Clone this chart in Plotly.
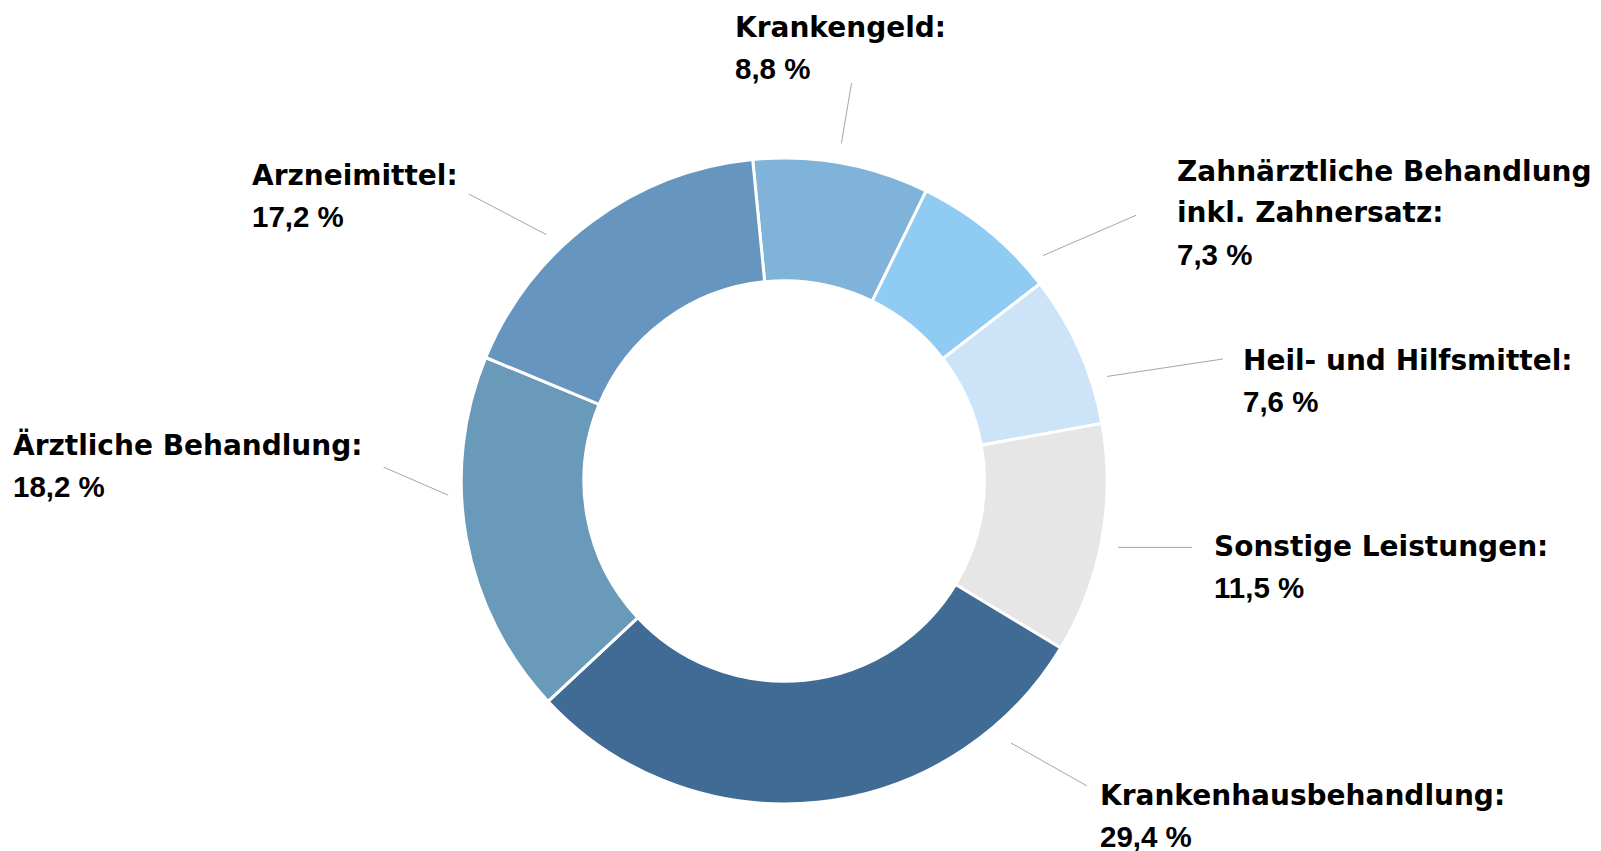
import math
import plotly.graph_objects as go

# ---- data ----
categories = [
    "Krankengeld",
    "Zahnärztliche Behandlung inkl. Zahnersatz",
    "Heil- und Hilfsmittel",
    "Sonstige Leistungen",
    "Krankenhausbehandlung",
    "Ärztliche Behandlung",
    "Arzneimittel",
]
label_lines = [
    ["Krankengeld:"],
    ["Zahnärztliche Behandlung", "inkl. Zahnersatz:"],
    ["Heil- und Hilfsmittel:"],
    ["Sonstige Leistungen:"],
    ["Krankenhausbehandlung:"],
    ["Ärztliche Behandlung:"],
    ["Arzneimittel:"],
]
shares = [8.8, 7.3, 7.6, 11.5, 29.4, 18.2, 17.2]

# ---- style ----
colors = ["#7fb3d9", "#8fcbf3", "#cde4f8", "#e6e6e6", "#3f6b95", "#6a9aba", "#6695c0"]
W, H = 1601, 851
CX, CY, R = 776.2, 473.0, 323.0   # pie centre / radius in px
HOLE = 0.62
ROTATION = -5.6
# label left x, centre of first line y (px)
label_pos = [
    (724.5, 19.4), (1166.5, 163.3), (1232.5, 352.2), (1203.5, 538.1),
    (1089.5, 787.2), (2.5, 437.0), (241.5, 167.4),
]
LINE_GAP = 41.6
NAME_SIZE = 28.0
PCT_SIZE = 29.5
# leader: (fraction inside slice for inner end, inner radius factor,
#          angle delta for outer end, outer radius factor)
leaders = [
    (0.48, 1.06, 0.0, 1.25),
    (0.87, 1.063, 4.0, 1.365),
    (0.72, 1.051, 2.4, 1.41),
    (0.52, 1.054, -2.0, 1.279),
    (0.17, 1.073, -3.9, 1.33),
    (0.62, 1.041, 4.4, 1.241),
    (0.38, 1.06, -3.7, 1.32),
]


def px(x, y):
    return x / W, 1 - y / H


def polar(angle_deg, rf):
    a = math.radians(angle_deg)
    return CX + R * rf * math.sin(a), CY - R * rf * math.cos(a)


fig = go.Figure(go.Pie(
    labels=categories,
    values=shares,
    hole=HOLE,
    sort=False,
    direction="clockwise",
    rotation=ROTATION,
    marker=dict(colors=colors, line=dict(color="white", width=3)),
    textinfo="none",
    hoverinfo="label+percent",
    domain=dict(x=[(CX - R) / W, (CX + R) / W], y=[1 - (CY + R) / H, 1 - (CY - R) / H]),
    showlegend=False,
))

total = sum(shares)
shapes, annotations = [], []
start = ROTATION
for i, v in enumerate(shares):
    span = v / total * 360.0
    frac, rin, dang, rout = leaders[i]
    a_in = start + frac * span
    x0, y0 = polar(a_in, rin)
    x1, y1 = polar(a_in + dang, rout)
    p0, p1 = px(x0, y0), px(x1, y1)
    shapes.append(dict(type="line", xref="paper", yref="paper",
                       x0=p0[0], y0=p0[1], x1=p1[0], y1=p1[1],
                       line=dict(color="#a6a6a6", width=1)))
    lx, ly = label_pos[i]
    lines = label_lines[i]
    for j, t in enumerate(lines):
        ax, ay = px(lx, ly + j * LINE_GAP)
        annotations.append(dict(
            x=ax, y=ay, xref="paper", yref="paper", xanchor="left", yanchor="middle",
            text=t, showarrow=False,
            font=dict(family="DejaVu Sans", size=NAME_SIZE, color="black", weight="bold"),
        ))
    ax, ay = px(lx, ly + len(lines) * LINE_GAP)
    annotations.append(dict(
        x=ax, y=ay, xref="paper", yref="paper", xanchor="left", yanchor="middle",
        text=f"{v:.1f} %".replace(".", ","), showarrow=False,
        font=dict(family="Liberation Sans", size=PCT_SIZE, color="black", weight="bold"),
    ))
    start += span

fig.update_layout(
    width=W, height=H,
    margin=dict(l=0, r=0, t=0, b=0),
    paper_bgcolor="white", plot_bgcolor="white",
    shapes=shapes, annotations=annotations,
)

fig.write_html("out.html")
